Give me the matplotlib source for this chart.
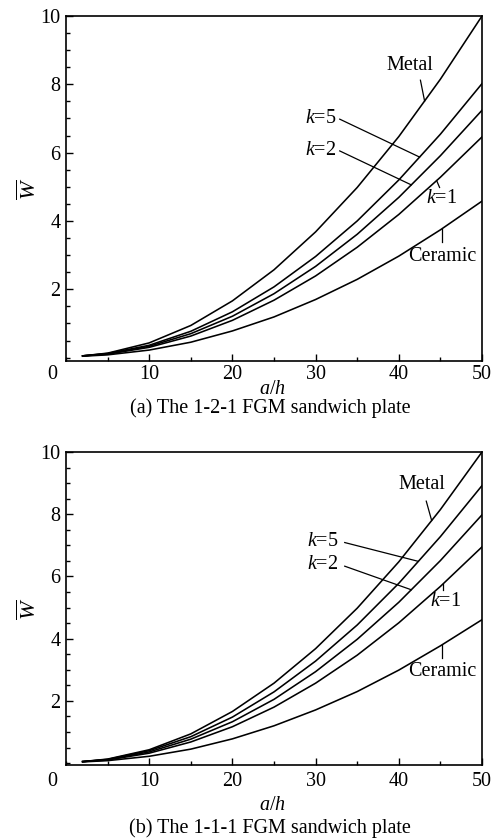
import numpy as np
import matplotlib
matplotlib.use("Agg")
import matplotlib.pyplot as plt
from matplotlib.ticker import MultipleLocator

plt.rcParams['font.family'] = ['Liberation Serif', 'DejaVu Serif']
plt.rcParams['mathtext.fontset'] = 'custom'
plt.rcParams['mathtext.rm'] = 'Liberation Serif'
plt.rcParams['mathtext.it'] = 'Liberation Serif:italic'
plt.rcParams['mathtext.bf'] = 'Liberation Serif:bold'

# a/h values
a_h = [2, 5, 10, 15, 20, 25, 30, 35, 40, 45, 50]

# (a) 1-2-1 FGM sandwich plate
a_metal   = [0.05, 0.13, 0.43, 0.94, 1.66, 2.57, 3.68, 4.98, 6.47, 8.15, 10.0]
a_k5      = [0.05, 0.12, 0.36, 0.77, 1.34, 2.07, 2.96, 4.00, 5.20, 6.54, 8.02]
a_k2      = [0.05, 0.11, 0.33, 0.70, 1.21, 1.87, 2.67, 3.61, 4.69, 5.91, 7.24]
a_k1      = [0.05, 0.10, 0.30, 0.63, 1.09, 1.68, 2.39, 3.23, 4.19, 5.28, 6.46]
a_ceramic = [0.04, 0.08, 0.22, 0.45, 0.78, 1.19, 1.70, 2.29, 2.97, 3.74, 4.58]

# (b) 1-1-1 FGM sandwich plate
b_metal   = [0.05, 0.13, 0.43, 0.94, 1.66, 2.57, 3.68, 4.98, 6.47, 8.15, 10.0]
b_k5      = [0.05, 0.12, 0.40, 0.85, 1.48, 2.29, 3.28, 4.44, 5.78, 7.28, 8.92]
b_k2      = [0.05, 0.11, 0.36, 0.77, 1.33, 2.05, 2.94, 3.98, 5.17, 6.51, 7.98]
b_k1      = [0.05, 0.10, 0.32, 0.68, 1.17, 1.80, 2.57, 3.47, 4.51, 5.68, 6.95]
b_ceramic = [0.04, 0.08, 0.22, 0.45, 0.78, 1.20, 1.71, 2.30, 2.99, 3.77, 4.61]

x_ticks = [10, 20, 30, 40, 50]
y_ticks = [2, 4, 6, 8, 10]
captions = ["(a) The 1-2-1 FGM sandwich plate", "(b) The 1-1-1 FGM sandwich plate"]

W, H = 493, 838
fig = plt.figure(figsize=(W / 100, H / 100), dpi=100)
FS = 14.5

def px_axes(l, t, r, b):
    return fig.add_axes([l / W, 1 - b / H, (r - l) / W, (b - t) / H])

def draw(ax, series, ymin, ann, caption, bottom_px, tick_pad, xlab_px, cap_px):
    for s in series:
        ax.plot(a_h, s, color='black', lw=1.15)
    ax.set_xlim(0, 50)
    ax.set_ylim(ymin, 10)
    ax.set_xticks(x_ticks)
    ax.set_yticks(y_ticks)
    ax.xaxis.set_minor_locator(MultipleLocator(5))
    ax.yaxis.set_minor_locator(MultipleLocator(0.5))
    ax.tick_params(which='both', direction='in', top=False, right=False,
                   labelsize=FS, width=1.0)
    ax.tick_params(axis='x', pad=tick_pad)
    ax.tick_params(axis='y', pad=4)
    ax.tick_params(which='major', length=5)
    ax.tick_params(which='minor', length=3)
    for sp in ax.spines.values():
        sp.set_linewidth(1.2)
    # shared-origin "0"
    fig.text(52 / W, 1 - (bottom_px + tick_pad * 100 / 72) / H, '0',
             ha='center', va='top', fontsize=FS)
    fig.text(29 / W, ax.get_position().y0 + ax.get_position().height * 0.5,
             r'$\overline{W}$', rotation=90, ha='center', va='center', fontsize=16)
    fig.text(272 / W, 1 - xlab_px / H, r'$a/h$', ha='center', va='center', fontsize=FS)
    fig.text(270 / W, 1 - cap_px / H, caption, ha='center', va='center', fontsize=FS)
    for (label, tx, ty, sx, sy, ex, curve) in ann:
        ey = float(np.interp(ex, a_h, curve))
        ax.text(tx, ty, label, ha='center', va='center', fontsize=FS)
        ax.plot([sx, ex], [sy, ey], color='black', lw=0.9)

ax1 = px_axes(66, 16, 482, 361)
ann1 = [
    ('Metal', 41.3, 8.55, 42.6, 8.12, 43.1, a_metal),
    (r'$k$=5', 30.6, 7.0, 32.9, 6.98, 42.5, a_k5),
    (r'$k$=2', 30.6, 6.07, 32.9, 6.05, 41.5, a_k2),
    (r'$k$=1', 45.1, 4.66, 44.9, 4.98, 44.55, a_k1),
    ('Ceramic', 45.2, 2.95, 45.15, 3.38, 45.15, a_ceramic),
]
draw(ax1, [a_metal, a_k5, a_k2, a_k1, a_ceramic], -0.1, ann1, captions[0],
     361, 3, 389, 408)

ax2 = px_axes(66, 452, 482, 765)
ann2 = [
    ('Metal', 42.8, 8.95, 43.3, 8.42, 43.95, b_metal),
    (r'$k$=5', 30.9, 7.13, 33.5, 7.09, 42.35, b_k5),
    (r'$k$=2', 30.9, 6.37, 33.5, 6.33, 41.5, b_k2),
    (r'$k$=1', 45.6, 5.2, 45.35, 5.58, 45.35, b_k1),
    ('Ceramic', 45.2, 2.95, 45.15, 3.38, 45.15, b_ceramic),
]
draw(ax2, [b_metal, b_k5, b_k2, b_k1, b_ceramic], -0.06, ann2, captions[1],
     765, 5, 805, 828)

fig.savefig('out.png', dpi=100)
